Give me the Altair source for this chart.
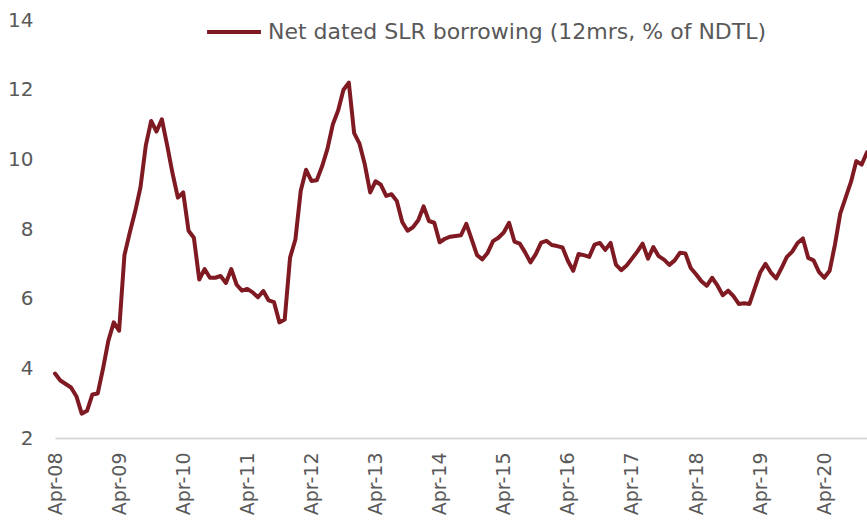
import altair as alt
import pandas as pd

# Monthly values, Apr-2008 .. Dec-2020 (Net dated SLR borrowing, 12mrs, % of NDTL)
net_slr = [
    3.85, 3.65, 3.55, 3.45, 3.20, 2.70, 2.78, 3.25, 3.28, 4.00, 4.80, 5.32,   # Apr08-Mar09
    5.08, 7.25, 7.90, 8.50, 9.20, 10.40, 11.10, 10.80, 11.15, 10.40, 9.60, 8.90,  # Apr09-Mar10
    9.05, 7.95, 7.75, 6.55, 6.85, 6.60, 6.60, 6.65, 6.45, 6.85, 6.40, 6.23,   # Apr10-Mar11
    6.28, 6.18, 6.04, 6.22, 5.95, 5.90, 5.32, 5.40, 7.18, 7.70, 9.10, 9.70,   # Apr11-Mar12
    9.38, 9.40, 9.80, 10.30, 11.00, 11.40, 12.00, 12.20, 10.75, 10.45, 9.85, 9.05,  # Apr12-Mar13
    9.37, 9.27, 8.95, 9.00, 8.80, 8.20, 7.95, 8.05, 8.25, 8.65, 8.23, 8.18,   # Apr13-Mar14
    7.62, 7.72, 7.78, 7.80, 7.82, 8.15, 7.70, 7.25, 7.13, 7.32, 7.65, 7.75,   # Apr14-Mar15
    7.90, 8.18, 7.64, 7.58, 7.33, 7.04, 7.28, 7.61, 7.66, 7.54, 7.51, 7.47,   # Apr15-Mar16
    7.09, 6.80, 7.28, 7.25, 7.20, 7.55, 7.60, 7.40, 7.60, 6.98, 6.82, 6.95,   # Apr16-Mar17
    7.15, 7.35, 7.58, 7.15, 7.48, 7.22, 7.12, 6.97, 7.10, 7.32, 7.30, 6.88,   # Apr17-Mar18
    6.70, 6.50, 6.37, 6.60, 6.38, 6.10, 6.23, 6.07, 5.85, 5.87, 5.85, 6.30,   # Apr18-Mar19
    6.75, 7.00, 6.75, 6.58, 6.88, 7.20, 7.35, 7.60, 7.73, 7.17, 7.10, 6.77,   # Apr19-Mar20
    6.60, 6.80, 7.55, 8.45, 8.90, 9.35, 9.95, 9.85, 10.20,                    # Apr20-Dec20
]

month_names = ["Jan", "Feb", "Mar", "Apr", "May", "Jun",
               "Jul", "Aug", "Sep", "Oct", "Nov", "Dec"]
months = []
y, m = 2008, 3  # start at April 2008 (0-based month index 3)
for _ in net_slr:
    months.append(f"{month_names[m]}-{y % 100:02d}")
    m += 1
    if m == 12:
        m = 0
        y += 1

tick_labels = [f"Apr-{yy:02d}" for yy in range(8, 21)]
y_ticks = [2, 4, 6, 8, 10, 12, 14]
series_name = "Net dated SLR borrowing (12mrs, % of NDTL)"
line_color = "#7f1a22"

df = pd.DataFrame({"month": months, "value": net_slr, "series": series_name})

FONT = "DejaVu Sans"
GREY = "#595959"

chart = (
    alt.Chart(df)
    .mark_line(strokeWidth=4, strokeCap="round", strokeJoin="round")
    .encode(
        x=alt.X(
            "month:O",
            sort=None,
            scale=alt.Scale(type="point", padding=0),
            axis=alt.Axis(
                title=None,
                values=tick_labels,
                labelAngle=-90,
                labelFontSize=19,
                labelColor=GREY,
                labelFont=FONT,
                labelPadding=14,
                ticks=False,
                domainColor="#d9d9d9",
                domainWidth=2,
                grid=False,
            ),
        ),
        y=alt.Y(
            "value:Q",
            scale=alt.Scale(domain=[2, 14], nice=False, zero=False),
            axis=alt.Axis(
                title=None,
                values=y_ticks,
                labelFontSize=20,
                labelColor=GREY,
                labelFont=FONT,
                labelPadding=22,
                ticks=False,
                domain=False,
                grid=False,
            ),
        ),
        color=alt.Color(
            "series:N",
            scale=alt.Scale(domain=[series_name], range=[line_color]),
            legend=alt.Legend(
                title=None,
                orient="none",
                legendX=150,
                legendY=-17,
                symbolType="stroke",
                symbolSize=2900,
                symbolStrokeWidth=4,
                labelFontSize=22,
                labelFont=FONT,
                labelColor=GREY,
                labelOffset=5,
                labelLimit=0,
            ),
        ),
    )
    .properties(
        width=812,
        height=418,
        autosize=alt.AutoSizeParams(type="none"),
        padding={"left": 55, "top": 20, "right": 0, "bottom": 84},
        background="white",
    )
    .configure_view(stroke=None)
)

chart.save("out.html", embed_options={"renderer": "svg", "actions": False})
